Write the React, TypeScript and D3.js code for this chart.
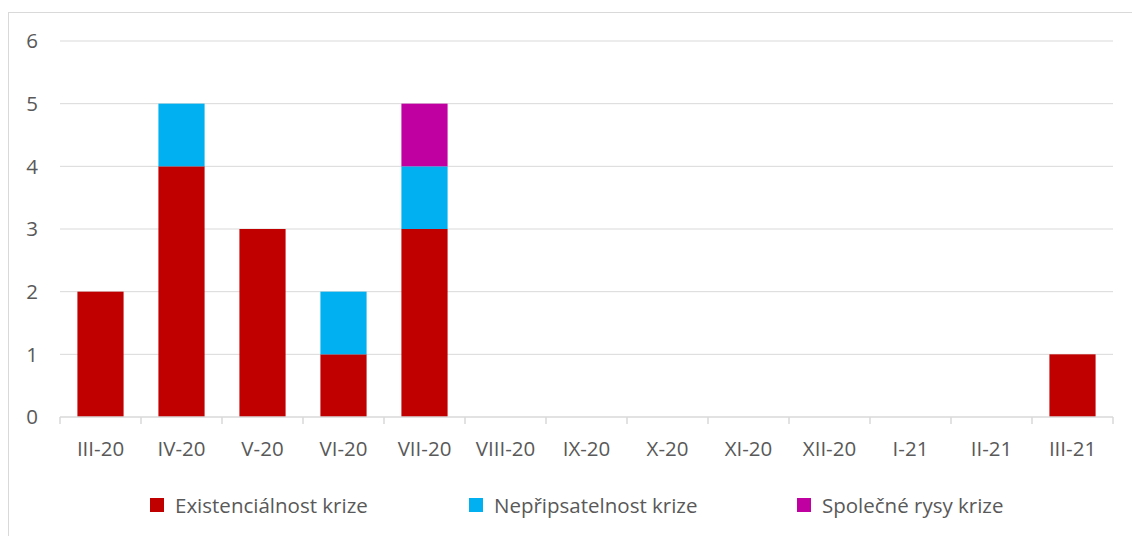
import React from "react";
import * as d3 from "d3";

const categories = ["III-20", "IV-20", "V-20", "VI-20", "VII-20", "VIII-20", "IX-20", "X-20", "XI-20", "XII-20", "I-21", "II-21", "III-21"];
const existencialnost = [2, 4, 3, 1, 3, 0, 0, 0, 0, 0, 0, 0, 1];
const nepripsatelnost = [0, 1, 0, 1, 1, 0, 0, 0, 0, 0, 0, 0, 0];
const spolecne = [0, 0, 0, 0, 1, 0, 0, 0, 0, 0, 0, 0, 0];
const seriesNames = ["Existenciálnost krize", "Nepřipsatelnost krize", "Společné rysy krize"];
const seriesColors = ["#C00000", "#00B0F0", "#C000A0"];
const yTicks = [0, 1, 2, 3, 4, 5, 6];

const W = 1132, H = 536;
const left = 60, right = 1113, top = 41, bottom = 417;
const font = "'Open Sans', sans-serif";
const textColor = "#595959";
const fs = 20.5;

export default function App() {
  const x = d3.scaleBand<string>().domain(categories).range([left, right]).paddingInner(0.43).paddingOuter(0.215);
  const xEdges = d3.scaleBand<string>().domain(categories).range([left, right]).padding(0);
  const y = d3.scaleLinear().domain([0, 6]).range([bottom, top]);
  const rows = categories.map((c, i) => ({ cat: c, a: existencialnost[i], b: nepripsatelnost[i], c: spolecne[i] }));
  const stack = d3.stack<any>().keys(["a", "b", "c"])(rows);
  const legendX = [150, 469, 797];
  return (
    <svg width={W} height={H} style={{ position: "absolute", left: 0, top: 0, background: "#fff" }}>
      <rect x={8.5} y={12.5} width={1130} height={540} fill="#fff" stroke="#D9D9D9" strokeWidth={1} />
      {yTicks.map(t => (
        <g key={t}>
          {t > 0 && <line x1={left} x2={right} y1={y(t)} y2={y(t)} stroke="#D9D9D9" strokeWidth={1} />}
          <text x={38} y={y(t)} dy="0.35em" textAnchor="end" fontFamily={font} fontSize={fs} fill={textColor}>{t}</text>
        </g>
      ))}
      {stack.map((s, si) => (
        <g key={si} fill={seriesColors[si]}>
          {s.map((d, i) => d[1] - d[0] > 0 ? (
            <rect key={i} x={x(categories[i])} width={x.bandwidth()} y={y(d[1])} height={y(d[0]) - y(d[1])} />
          ) : null)}
        </g>
      ))}
      <line x1={left} x2={right} y1={bottom} y2={bottom} stroke="#D9D9D9" strokeWidth={1.5} />
      {categories.map(c => (
        <line key={c} x1={xEdges(c)} x2={xEdges(c)} y1={bottom} y2={bottom + 7} stroke="#D9D9D9" strokeWidth={1.5} />
      ))}
      <line x1={right} x2={right} y1={bottom} y2={bottom + 7} stroke="#D9D9D9" strokeWidth={1.5} />
      {categories.map(c => (
        <text key={c} x={(x(c) as number) + x.bandwidth() / 2} y={456} textAnchor="middle" fontFamily={font} fontSize={fs} fill={textColor}>{c}</text>
      ))}
      {seriesNames.map((n, i) => (
        <g key={n}>
          <rect x={legendX[i]} y={498} width={14} height={14} fill={seriesColors[i]} />
          <text x={legendX[i] + 25} y={512.5} fontFamily={font} fontSize={fs} fill={textColor}>{n}</text>
        </g>
      ))}
    </svg>
  );
}
